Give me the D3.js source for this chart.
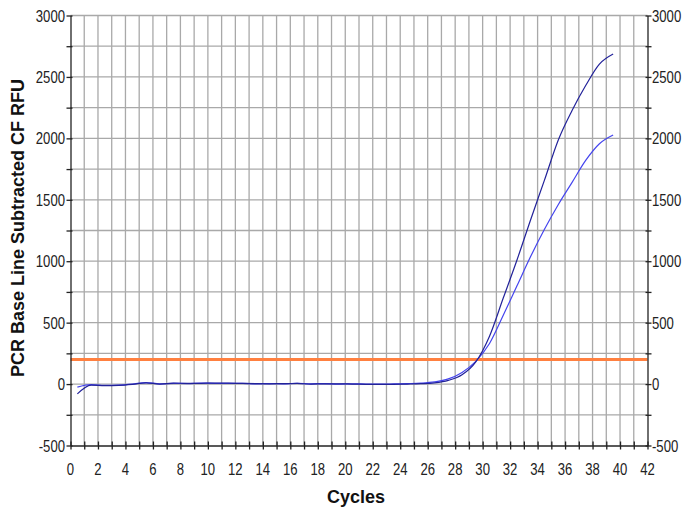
<!DOCTYPE html>
<html><head><meta charset="utf-8">
<script src="https://cdn.jsdelivr.net/npm/d3@7"></script>
<style>body{margin:0;background:#fff}svg{display:block}</style>
</head><body>
<script>
const cycles = [0.5,1.5,2.5,3.5,4.5,5.5,6.5,7.5,8.5,9.5,10.5,11.5,12.5,13.5,14.5,15.5,16.5,17.5,18.5,19.5,20.5,21.5,22.5,23.5,24.5,25.5,26.5,27.5,28.5,29.5,30.5,31.5,32.5,33.5,34.5,35.5,36.5,37.5,38.5,39.5];
const wellA = [-80,-8,-12,-10,-2,10,0,8,5,6,8,7,5,3,2,4,5,0,2,2,0,-2,-3,-2,0,3,10,30,75,180,390,700,1010,1340,1660,1985,2225,2430,2604,2686];
const wellB = [-25,-5,-10,-8,0,12,2,6,4,8,6,5,6,2,4,2,6,2,4,0,2,0,-1,1,4,8,18,42,95,185,330,560,800,1040,1260,1460,1640,1820,1956,2027];
const threshold = 200;
const xTicks = d3.range(0, 43, 2);
const yTicks = [-500,0,500,1000,1500,2000,2500,3000];
const seriesColors = ["#22229a", "#4444ee"];

const W = 682, H = 508;
const x = d3.scaleLinear().domain([0, 42]).range([70.5, 647.5]);
const y = d3.scaleLinear().domain([-500, 3000]).range([445.5, 15.5]);

const svg = d3.select("body").append("svg").attr("width", W).attr("height", H);

// grid
const g = svg.append("g");
g.selectAll(".vg").data(d3.range(1, 42)).join("line")
  .attr("x1", d => x(d)).attr("x2", d => x(d)).attr("y1", y(3000)).attr("y2", y(-500))
  .attr("stroke", "#a9a9a9").attr("stroke-width", 1.3);
g.selectAll(".hg").data(d3.range(-250, 3001, 250)).join("line")
  .attr("x1", x(0)).attr("x2", x(42)).attr("y1", d => y(d)).attr("y2", d => y(d))
  .attr("stroke", "#a9a9a9").attr("stroke-width", 1.3);

// threshold
svg.append("line").attr("x1", x(0)).attr("x2", x(42)).attr("y1", y(threshold)).attr("y2", y(threshold))
  .attr("stroke", "#ff8040").attr("stroke-width", 3);

// curves
const line = d3.line().x((d, i) => x(cycles[i])).y(d => y(d)).curve(d3.curveMonotoneX);
[wellB, wellA].forEach((s, k) => {
  svg.append("path").datum(s).attr("d", line).attr("fill", "none")
    .attr("stroke", seriesColors[1 - k]).attr("stroke-width", 1.2);
});

// axes
const axCol = "#222";
function styleAxis(sel) {
  sel.select(".domain").attr("stroke", axCol).attr("stroke-width", 1.3);
  sel.selectAll(".tick line").attr("stroke", axCol).attr("stroke-width", 1.3);
  sel.selectAll("text").remove();
}
svg.append("g").attr("transform", `translate(0,${y(-500)})`)
  .call(d3.axisBottom(x).tickValues(d3.range(0, 43, 1)).tickSize(4).tickSizeOuter(0))
  .call(styleAxis)
  .call(s => s.selectAll(".tick line").attr("y1", -4));
svg.append("g").attr("transform", `translate(${x(0)},0)`)
  .call(d3.axisLeft(y).tickValues(d3.range(-500, 3001, 250)).tickSize(4).tickSizeOuter(0))
  .call(styleAxis)
  .call(s => s.selectAll(".tick line").attr("x1", 2));
svg.append("g").attr("transform", `translate(${x(42)},0)`)
  .call(d3.axisRight(y).tickValues(d3.range(-500, 3001, 250)).tickSize(4).tickSizeOuter(0))
  .call(styleAxis)
  .call(s => s.selectAll(".tick line").attr("x1", -2));

// tick labels (narrow, tall)
const font = "'Liberation Sans', Arial, sans-serif";
function label(px, py, txt, anchor) {
  svg.append("g").attr("transform", `translate(${px},${py})`)
    .append("text").attr("transform", "scale(0.82,1)")
    .attr("text-anchor", anchor).attr("font-family", font).attr("font-size", 16)
    .attr("fill", "#222").text(txt);
}
xTicks.forEach(t => label(x(t), 475, t, "middle"));
yTicks.forEach(t => label(65, y(t) + 6, t, "end"));
yTicks.forEach(t => label(652, y(t) + 6, t, "start"));

svg.append("text").attr("x", 356).attr("y", 503).attr("text-anchor", "middle")
  .attr("font-family", font).attr("font-weight", "bold").attr("font-size", 18).attr("fill", "#111").text("Cycles");
svg.append("text").attr("transform", `translate(24,228) rotate(-90)`).attr("text-anchor", "middle")
  .attr("font-family", font).attr("font-weight", "bold").attr("font-size", 18).attr("fill", "#111")
  .text("PCR Base Line Subtracted CF RFU");
</script>
</body></html>
